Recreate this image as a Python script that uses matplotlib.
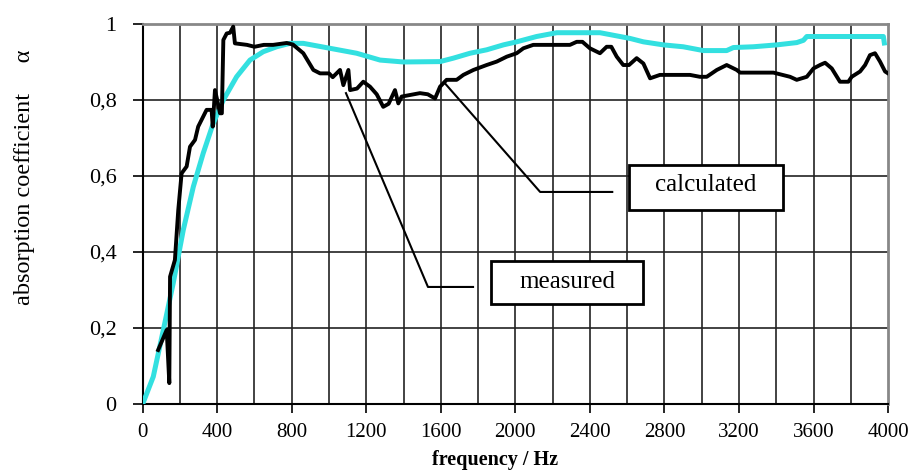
import matplotlib
matplotlib.use("Agg")
import matplotlib.pyplot as plt
from matplotlib.patches import Rectangle

plt.rcParams['font.family'] = ['Liberation Serif', 'DejaVu Serif']

# measured absorption coefficient (black)
meas_f = [83, 129, 143, 147, 173, 191, 209, 236, 254, 281, 298, 343, 370, 376, 388, 400,
          415, 425, 433, 451, 469, 486, 495, 560, 600, 650, 700, 773, 806, 862, 916, 952,
          1000, 1020, 1059, 1077, 1104, 1113, 1150, 1184, 1220, 1256, 1291, 1320, 1354, 1372,
          1390, 1488, 1530, 1569, 1596, 1631, 1685, 1721, 1775, 1846, 1900, 1954, 2007, 2043,
          2096, 2293, 2329, 2360, 2400, 2454, 2490, 2515, 2544, 2579, 2610, 2651, 2687, 2723,
          2776, 2937, 2990, 3027, 3081, 3134, 3188, 3206, 3385, 3474, 3510, 3564, 3600, 3635,
          3662, 3698, 3742, 3787, 3805, 3850, 3877, 3903, 3930, 3957, 3984, 4000]
meas_a = [0.142, 0.195, 0.055, 0.335, 0.379, 0.51, 0.607, 0.625, 0.677, 0.695, 0.73, 0.774,
          0.774, 0.73, 0.826, 0.80, 0.765, 0.765, 0.958, 0.975, 0.977, 0.993, 0.949, 0.945,
          0.94, 0.945, 0.945, 0.95, 0.946, 0.923, 0.879, 0.87, 0.87, 0.86, 0.879, 0.839,
          0.879, 0.826, 0.83, 0.848, 0.835, 0.815, 0.782, 0.79, 0.826, 0.791, 0.809, 0.818,
          0.815, 0.804, 0.835, 0.853, 0.853, 0.866, 0.879, 0.892, 0.901, 0.914, 0.923, 0.936,
          0.945, 0.945, 0.953, 0.953, 0.936, 0.923, 0.94, 0.94, 0.914, 0.892, 0.892, 0.91,
          0.896, 0.857, 0.866, 0.866, 0.861, 0.861, 0.879, 0.892, 0.879, 0.872, 0.872, 0.861,
          0.853, 0.861, 0.883, 0.892, 0.898, 0.883, 0.848, 0.848, 0.861, 0.875, 0.892, 0.918,
          0.923, 0.901, 0.875, 0.87]

# calculated absorption coefficient (cyan)
calc_f = [0, 57, 111, 164, 218, 272, 325, 379, 433, 504, 576, 647, 719, 790, 862, 1005,
          1148, 1274, 1399, 1596, 1667, 1757, 1846, 1936, 2007, 2114, 2222, 2454, 2508, 2615,
          2687, 2794, 2901, 3009, 3134, 3170, 3277, 3403, 3510, 3546, 3564, 3975, 3980]
calc_a = [0.0, 0.072, 0.195, 0.318, 0.458, 0.572, 0.66, 0.739, 0.8, 0.861, 0.905, 0.927,
          0.94, 0.949, 0.949, 0.936, 0.923, 0.905, 0.9, 0.901, 0.91, 0.923, 0.932, 0.945,
          0.953, 0.967, 0.977, 0.977, 0.972, 0.962, 0.953, 0.945, 0.94, 0.93, 0.93, 0.938,
          0.94, 0.945, 0.951, 0.957, 0.967, 0.967, 0.95]

x_ticks = [0, 400, 800, 1200, 1600, 2000, 2400, 2800, 3200, 3600, 4000]
y_ticks = [0, 0.2, 0.4, 0.6, 0.8, 1.0]
y_labels = ['0', '0,2', '0,4', '0,6', '0,8', '1']

fig = plt.figure(figsize=(9.11, 4.70), dpi=100)
ax = fig.add_axes([0.1566, 0.1404, 0.8182, 0.8086])

# grid every 200 Hz and every 0.2
for f in range(200, 4000, 200):
    ax.axvline(f, color='#222222', linewidth=1.2, zorder=1)
for a in y_ticks[1:-1]:
    ax.axhline(a, color='#222222', linewidth=1.2, zorder=1)

ax.plot(calc_f, calc_a, color='#33e0e0', linewidth=3.6, zorder=3)
ax.plot(meas_f, meas_a, color='black', linewidth=2.8, zorder=4)

# leader lines and label boxes
ax.plot([1620, 2133, 2520], [0.845, 0.558, 0.558], color='black', linewidth=1.5, zorder=5)
ax.plot([1091, 1531, 1773], [0.818, 0.308, 0.308], color='black', linewidth=1.5, zorder=5)

ax.add_patch(Rectangle((2610, 0.511), 827, 0.118, facecolor='white',
                       edgecolor='black', linewidth=2, zorder=6))
ax.text(3023, 0.575, 'calculated', ha='center', va='center', fontsize=18, zorder=7)
ax.add_patch(Rectangle((1869, 0.263), 816, 0.113, facecolor='white',
                       edgecolor='black', linewidth=2, zorder=6))
ax.text(2277, 0.322, 'measured', ha='center', va='center', fontsize=18, zorder=7)

ax.set_xlim(0, 4000)
ax.set_ylim(0, 1)
ax.set_xticks(x_ticks)
ax.set_xticklabels([str(t) for t in x_ticks])
ax.set_yticks(y_ticks)
ax.set_yticklabels(y_labels)
ax.tick_params(axis='x', direction='out', length=6.5, width=1.2, labelsize=15,
               colors='black', pad=7)
ax.tick_params(axis='y', direction='out', length=7.2, width=1.2, labelsize=16,
               colors='black', pad=11.5)

for side in ['left', 'bottom']:
    ax.spines[side].set_linewidth(1.5)
    ax.spines[side].set_color('black')
for side in ['top', 'right']:
    ax.spines[side].set_linewidth(2)
    ax.spines[side].set_color('#888888')

fig.text(495 / 911, 1 - 460 / 470, 'frequency / Hz', ha='center', va='center',
         fontsize=14.5, fontweight='bold')
fig.text(25 / 911, 1 - 177 / 470, u'absorption coefficient     \u03b1', rotation=90,
         ha='center', va='center', fontsize=17.5)

plt.savefig("out.png", dpi=100)
